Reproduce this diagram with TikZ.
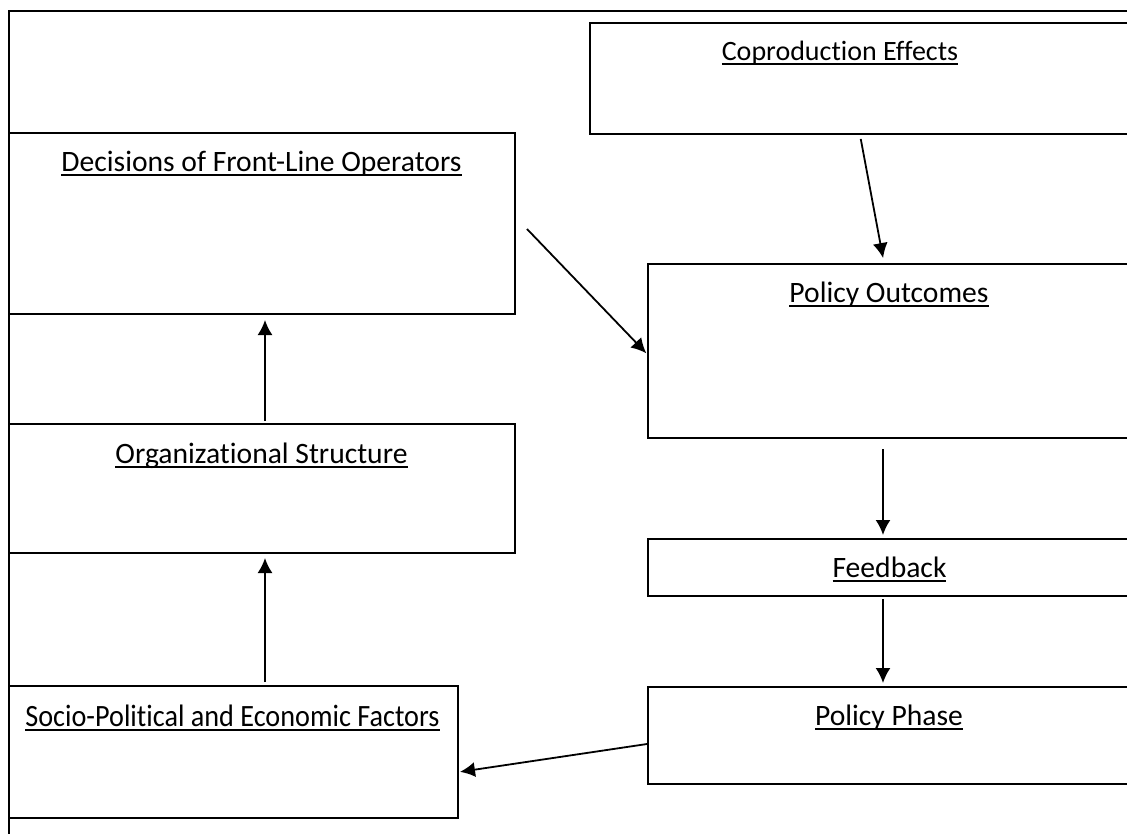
\documentclass[tikz,border=0pt]{standalone}
\usepackage{fontspec}
\setmainfont{Carlito}[Ligatures=NoCommon]
\usetikzlibrary{arrows.meta}
\newsavebox{\ulsave}
\newcommand{\ulbox}[1]{\sbox{\ulsave}{#1}\rlap{\rule[-4.5pt]{\wd\ulsave}{2pt}}\usebox{\ulsave}}

\begin{document}
\begin{tikzpicture}
		[x=1pt,y=-1pt,>={Latex[length=15pt,width=15pt]},
		box/.style={draw,line width=2pt,anchor=north west,inner sep=0pt},
		title/.style={anchor=base,inner sep=0pt,font=\fontsize{29.6}{34}\selectfont},
		link/.style={->,line width=1.8pt}]
		\clip (0,0) rectangle (1127,834);
		\node[box,minimum width=1140pt,minimum height=840pt] (frame) at (8,10) {};

		\node[box,minimum width=506pt,minimum height=181pt] (dec) at (8,132) {};
		\node[box,minimum width=506pt,minimum height=129pt] (org) at (8,423) {};
		\node[box,minimum width=449pt,minimum height=132pt] (soc) at (8,685) {};
		\node[box,minimum width=560pt,minimum height=111pt] (cop) at (589,22) {};
		\node[box,minimum width=490pt,minimum height=174pt] (out) at (647,263) {};
		\node[box,minimum width=490pt,minimum height=57pt] (fb) at (647,538) {};
		\node[box,minimum width=490pt,minimum height=97pt] (pha) at (647,686) {};

		\node[title] (dectxt) at (261.5,172) {\ulbox{Decisions of Front-Line Operators}};
		\node[title] (orgtxt) at (261.5,463) {\ulbox{Organizational Structure}};
		\node[title,font=\fontsize{31}{36}\selectfont] (soctxt) at (232.5,726) {\scalebox{0.91}[1]{\ulbox{Socio-Political and Economic Factors}}};
		\node[title,font=\fontsize{28}{33}\selectfont] (coptxt) at (840,61) {\ulbox{Coproduction Effects}};
		\node[title] (outtxt) at (889,302) {\ulbox{Policy Outcomes}};
		\node[title] (fbtxt) at (889.5,577) {\ulbox{Feedback}};
		\node[title] (phatxt) at (889,725) {\ulbox{Policy Phase}};

		\draw[link,shorten <=4pt,shorten >=5pt] ([xshift=271pt]cop.south west) -- ([xshift=237pt]out.north west);
		\draw[link,shorten >=1pt] ([xshift=11pt,yshift=-5.5pt]dec.east) -- ([yshift=-3pt]out.west);
		\draw[link,shorten <=10pt,shorten >=3pt] ([xshift=236pt]out.south west) -- ([xshift=236pt]fb.north west);
		\draw[link,shorten <=2pt,shorten >=3pt] ([xshift=236pt]fb.south west) -- ([xshift=236pt]pha.north west);
		\draw[link,shorten >=1pt] ([yshift=-8.5pt]pha.west) -- ([yshift=-20pt]soc.east);
		\draw[link,shorten <=3pt,shorten >=4pt] ([xshift=31.5pt]soc.north) -- ([xshift=3pt]org.south);
		\draw[link,shorten <=2pt,shorten >=5pt] ([xshift=3pt]org.north) -- ([xshift=3pt]dec.south);

	\end{tikzpicture}
\end{document}
